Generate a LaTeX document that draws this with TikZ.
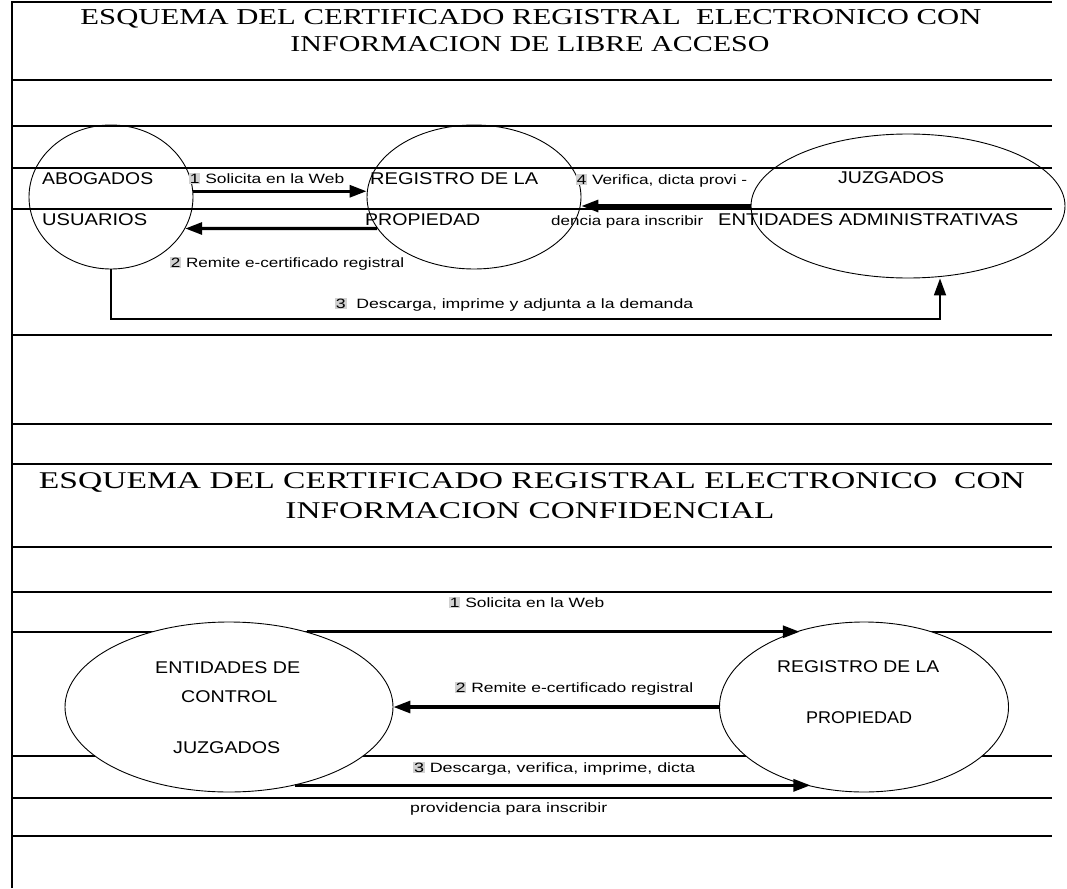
\documentclass[tikz,border=0pt]{standalone}
\usepackage{fontspec}
\setmainfont{Liberation Serif}
\newfontfamily\lblfont{Liberation Sans}
\usetikzlibrary{arrows.meta,shapes.geometric}
\newcommand{\fitw}[2]{\resizebox{#1}{\height}{#2}}
\newcommand{\numbox}[1]{{\setlength{\fboxsep}{0.6pt}\colorbox{black!18}{#1}}}
\tikzset{
  ovl/.style={ellipse,draw,line width=0.9pt,inner sep=0pt},
  rule/.style={line width=1.3pt},
  frame/.style={line width=2.8pt},
  flow/.style={-{Triangle[length=17pt,width=12pt]},line width=3.1pt},
  title/.style={font=\fontsize{22.7}{26}\selectfont,inner sep=0pt,anchor=base},
  big/.style={font=\lblfont\fontsize{17}{20}\selectfont,inner sep=0pt,anchor=base west},
  small/.style={font=\lblfont\fontsize{13.5}{16}\selectfont,inner sep=0pt,anchor=base west}
}
\begin{document}
\begin{tikzpicture}[x=1pt,y=-1pt]
\useasboundingbox (0,0) rectangle (1067,888);
% frame and ruled lines
\draw[frame] (12,888) -- (12,2) -- (1052,2);
\foreach \y in {80,126,168,209,335,424,464,547,592,632,756,798,836}
  \draw[rule] (12,\y) -- (1052,\y);
% titles
\node[title] (tA1) at (531,25) {\fitw{901pt}{ESQUEMA DEL CERTIFICADO REGISTRAL\ \ ELECTRONICO CON}};
\node[title] (tA2) at (530,52) {\fitw{479pt}{INFORMACION DE LIBRE ACCESO}};
\node[title,font=\fontsize{24}{28}\selectfont] (tB1) at (532,488) {\fitw{986pt}{ESQUEMA DEL CERTIFICADO REGISTRAL ELECTRONICO\ \ CON}};
\node[title,font=\fontsize{24}{28}\selectfont] (tB2) at (530,518) {\fitw{489pt}{INFORMACION CONFIDENCIAL}};
% libre acceso
\node[ovl,minimum width=164pt,minimum height=144pt] (usu) at (111,197) {};
\node[ovl,minimum width=214pt,minimum height=144pt] (reg) at (474,197) {};
\node[ovl,minimum width=314pt,minimum height=144pt] (juz) at (908,206) {};
\node[big] (abog) at (42,184) {\fitw{111pt}{ABOGADOS}};
\node[big] (usuar) at (42,225) {\fitw{105pt}{USUARIOS}};
\node[big] (regA) at (370,184) {\fitw{168pt}{REGISTRO DE LA}};
\node[big] (propA) at (365,225) {\fitw{115pt}{PROPIEDAD}};
\node[big] (juzA) at (838,183) {\fitw{106pt}{JUZGADOS}};
\node[big] (entA) at (718,225) {\fitw{300pt}{ENTIDADES ADMINISTRATIVAS}};
\node[small] (l1) at (189,183) {\fitw{155pt}{\numbox{1} Solicita en la Web}};
\node[small] (l2) at (170,267) {\fitw{234pt}{\numbox{2} Remite e-certificado registral}};
\node[small] (l4a) at (576,184) {\fitw{171pt}{\numbox{4} Verifica, dicta provi -}};
\node[small] (l4b) at (551,225) {\fitw{152pt}{dencia para inscribir}};
\node[small] (l3) at (335,308) {\fitw{358pt}{\numbox{3}\ \ Descarga, imprime y adjunta a la demanda}};
\draw[flow] (usu.4) -- (usu.4 -| reg.west);
\draw[flow] (reg.198) -- (usu.337);
\draw[flow] (juz.west) -- (juz.west -| reg.east);
\coordinate (bend) at (940,319);
\draw[flow,line width=1.8pt] (usu.south) |- (bend) -- (bend |- juz.south);
% confidencial
\node[ovl,fill=white,minimum width=328pt,minimum height=170pt] (ent) at (229,707) {};
\node[ovl,fill=white,minimum width=289pt,minimum height=170pt] (rpr) at (864,707) {};
\node[big] (entB) at (155,673) {\fitw{145pt}{ENTIDADES DE}};
\node[big] (ctrl) at (181,702) {\fitw{96pt}{CONTROL}};
\node[big] (juzB) at (173,753) {\fitw{107pt}{JUZGADOS}};
\node[big] (regB) at (777,672) {\fitw{162pt}{REGISTRO DE LA}};
\node[big] (propB) at (806,723) {\fitw{106pt}{PROPIEDAD}};
\node[small] (m1) at (449,607) {\fitw{155pt}{\numbox{1} Solicita en la Web}};
\node[small] (m2) at (455,692) {\fitw{238pt}{\numbox{2} Remite e-certificado registral}};
\node[small] (m3a) at (413,772) {\fitw{282pt}{\numbox{3} Descarga, verifica, imprime, dicta}};
\node[small] (m3b) at (410,812) {\fitw{197pt}{providencia para inscribir}};
\draw[flow] (ent.44) -- (ent.44 -| rpr.130);
\draw[flow] (rpr.west) -- (ent.east);
\draw[flow] (ent.310) -- (ent.310 -| rpr.236);
\end{tikzpicture}
\end{document}
